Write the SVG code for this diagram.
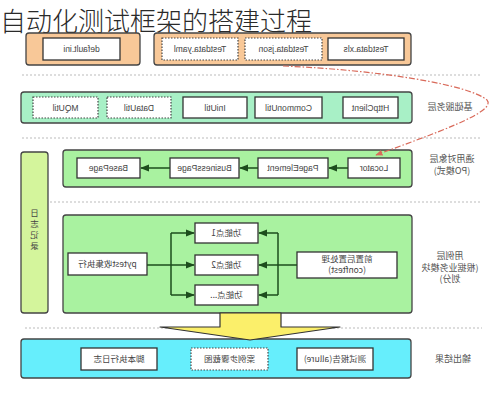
<svg xmlns="http://www.w3.org/2000/svg" width="496" height="400" viewBox="0 0 496 400">
<style>
.t{font-family:"Liberation Sans","Noto Sans CJK SC",sans-serif;font-size:8.5px;fill:#444;text-anchor:middle}
.c{font-family:"Noto Sans CJK SC","Liberation Sans",sans-serif;font-size:8.5px;fill:#444;text-anchor:middle}
.lbl{font-family:"Noto Sans CJK SC","Liberation Sans",sans-serif;font-size:9px;fill:#555;text-anchor:middle}
.box{fill:#fff;stroke:#333;stroke-width:1.3}
.dbox{fill:#fff;stroke:#444;stroke-width:1.2;stroke-dasharray:1.5 1.5}
.sep{stroke:#bbb;stroke-width:1;stroke-dasharray:2 2;fill:none}
.grp{stroke:#444;stroke-width:1.3}
.ga{stroke:#1d4d1d;stroke-width:1.5;fill:none}
</style>
<defs>
<marker id="ah" viewBox="0 0 10 10" refX="9" refY="5" markerWidth="6" markerHeight="6" orient="auto">
<path d="M0,1 L10,5 L0,9 z" fill="#1d4d1d"/>
</marker>
<marker id="rh" viewBox="0 0 10 10" refX="9" refY="5" markerWidth="6" markerHeight="6" orient="auto">
<path d="M0,1 L10,5 L0,9 z" fill="#d96a5a"/>
</marker>
</defs>
<rect width="496" height="400" fill="#fff"/>
<text x="0" y="31" style="font-family:'Noto Sans CJK SC',sans-serif;font-size:26px;font-weight:300;fill:#2a2a2a">自动化测试框架的搭建过程</text>

<!-- separators -->
<g id="separators">
<line class="sep" x1="22" y1="75" x2="482" y2="75"/>
<line class="sep" x1="22" y1="138" x2="482" y2="138"/>
<line class="sep" x1="50" y1="202" x2="482" y2="202"/>
<line class="sep" x1="25" y1="328" x2="482" y2="328"/>
</g>

<!-- config layer -->
<g id="config">
<rect class="grp" x="26" y="33" width="114" height="32" rx="3" fill="#f8c898"/>
<rect class="grp" x="154" y="33" width="257" height="32" rx="3" fill="#f8c898"/>
</g>
<g id="default-ini"><rect class="box" x="43" y="38" width="77" height="22"/><text class="t" transform="matrix(-1 0 0 1 81.5 52)">default.ini</text></g>
<g id="testdata-yaml"><rect class="dbox" x="162" y="38" width="76" height="22"/><text class="t" transform="matrix(-1 0 0 1 200 52)">Testdata.yaml</text></g>
<g id="testdata-json"><rect class="dbox" x="245" y="38" width="77" height="22"/><text class="t" transform="matrix(-1 0 0 1 283.5 52)">Testdata.json</text></g>
<g id="testdata-xls"><rect class="box" x="328" y="38" width="76" height="22"/><text class="t" transform="matrix(-1 0 0 1 366 52)">Testdata.xls</text></g>

<!-- base service layer -->
<g id="base-layer">
<rect class="grp" x="21" y="92" width="391" height="31" rx="3" fill="#a8f0c6"/>
<text class="lbl" transform="matrix(-1 0 0 1 450 110)">基础服务层</text>
</g>
<g id="mqutil"><rect class="dbox" x="33" y="97" width="65" height="21"/><text class="t" transform="matrix(-1 0 0 1 65.5 110.5)">MQUtil</text></g>
<g id="datautil"><rect class="dbox" x="107" y="97" width="64" height="21"/><text class="t" transform="matrix(-1 0 0 1 139 110.5)">DataUtil</text></g>
<g id="iniutil"><rect class="box" x="183" y="97" width="64" height="21"/><text class="t" transform="matrix(-1 0 0 1 215 110.5)">IniUtil</text></g>
<g id="commonutil"><rect class="box" x="255" y="97" width="67" height="21"/><text class="t" transform="matrix(-1 0 0 1 288.5 110.5)">CommonUtil</text></g>
<g id="httpclient"><rect class="box" x="343" y="97" width="55" height="21"/><text class="t" transform="matrix(-1 0 0 1 370.5 110.5)">HttpClient</text></g>

<!-- PO layer -->
<g id="po-layer">
<rect class="grp" x="63" y="150" width="349" height="37" rx="3" fill="#a9f2a0"/>
<text class="lbl" transform="matrix(-1 0 0 1 452 162)">通用对象层<tspan x="0" dy="12">(PO模式)</tspan></text>
</g>
<g id="basepage"><rect class="box" x="77" y="158" width="63" height="20"/><text class="t" transform="matrix(-1 0 0 1 108.5 171)">BasePage</text></g>
<g id="businesspage"><rect class="box" x="170" y="158" width="69" height="20"/><text class="t" transform="matrix(-1 0 0 1 204.5 171)">BusinessPage</text></g>
<g id="pageelement"><rect class="box" x="258" y="158" width="70" height="20"/><text class="t" transform="matrix(-1 0 0 1 293 171)">PageElement</text></g>
<g id="locator"><rect class="box" x="348" y="158" width="52" height="20"/><text class="t" transform="matrix(-1 0 0 1 374 171)">Locator</text></g>

<!-- log -->
<g id="log">
<rect class="grp" x="21" y="152" width="27" height="161" rx="3" fill="#d4f59c"/>
<text class="c" transform="matrix(-1 0 0 1 34.5 216)">日</text>
<text class="c" transform="matrix(-1 0 0 1 34.5 227)">志</text>
<text class="c" transform="matrix(-1 0 0 1 34.5 238)">记</text>
<text class="c" transform="matrix(-1 0 0 1 34.5 249)">录</text>
</g>

<!-- case layer -->
<g id="case-layer">
<rect class="grp" x="63" y="215" width="349" height="98" rx="3" fill="#a9f2a0"/>
<text class="lbl" transform="matrix(-1 0 0 1 450 259)">用例层<tspan x="0" dy="11.5">(根据业务模块</tspan><tspan x="0" dy="11.5">划分)</tspan></text>
</g>
<g id="pytest"><rect class="box" x="68" y="253" width="79" height="22"/><text class="c" transform="matrix(-1 0 0 1 107.5 267)">pytest收集执行</text></g>
<g id="fp1"><rect class="box" x="195" y="223" width="63" height="20"/><text class="c" transform="matrix(-1 0 0 1 226.5 236)">功能点1</text></g>
<g id="fp2"><rect class="box" x="195" y="255" width="63" height="20"/><text class="c" transform="matrix(-1 0 0 1 226.5 268)">功能点2</text></g>
<g id="fp3"><rect class="box" x="195" y="285" width="63" height="20"/><text class="c" transform="matrix(-1 0 0 1 226.5 298)">功能点...</text></g>
<g id="conftest"><rect class="box" x="297" y="252" width="100" height="26"/><text class="c" transform="matrix(-1 0 0 1 347 262)">前置后置处理<tspan x="0" dy="11">(conftest)</tspan></text></g>

<!-- output layer -->
<g id="output-layer">
<rect class="grp" x="21" y="339" width="390" height="39" rx="3" fill="#66eefc"/>
<text class="lbl" transform="matrix(-1 0 0 1 453 362)">输出结果</text>
</g>
<g id="script-log"><rect class="box" x="81" y="348" width="76" height="22"/><text class="c" transform="matrix(-1 0 0 1 119 362)">脚本执行日志</text></g>
<g id="screenshot"><rect class="dbox" x="191" y="348" width="77" height="22"/><text class="c" transform="matrix(-1 0 0 1 229.5 362)">案例步骤截图</text></g>
<g id="report"><rect class="box" x="297" y="348" width="76" height="22"/><text class="c" transform="matrix(-1 0 0 1 335 362)">测试报告(allure)</text></g>

<!-- connectors -->
<g id="connectors">
<line class="ga" x1="348" y1="168" x2="329" y2="168" marker-end="url(#ah)"/>
<line class="ga" x1="258" y1="168" x2="240" y2="168" marker-end="url(#ah)"/>
<line class="ga" x1="170" y1="168" x2="141" y2="168" marker-end="url(#ah)"/>
<path class="ga" d="M147,265 H171 M171,233 V295"/>
<line class="ga" x1="171" y1="233" x2="194" y2="233" marker-end="url(#ah)"/>
<line class="ga" x1="171" y1="265" x2="194" y2="265" marker-end="url(#ah)"/>
<line class="ga" x1="171" y1="295" x2="194" y2="295" marker-end="url(#ah)"/>
<path class="ga" d="M297,265 H278 M278,233 V295"/>
<line class="ga" x1="278" y1="233" x2="259" y2="233" marker-end="url(#ah)"/>
<line class="ga" x1="278" y1="265" x2="259" y2="265" marker-end="url(#ah)"/>
<line class="ga" x1="278" y1="295" x2="259" y2="295" marker-end="url(#ah)"/>
<path d="M283,66 C380,70 470,85 487,100 C498,112 430,135 376,155" fill="none" stroke="#d96a5a" stroke-width="1.2" stroke-dasharray="6 2 1.5 2" marker-end="url(#rh)"/>
<polygon points="220,313 281,313 281,327 340,327 250,340 160,327 220,327" fill="#fbef6a" stroke="#333" stroke-width="1.2" stroke-linejoin="round"/>
</g>
</svg>
